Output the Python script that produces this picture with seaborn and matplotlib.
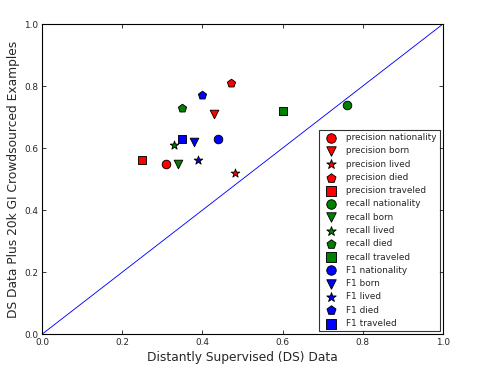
import matplotlib
matplotlib.use("Agg")
from matplotlib import pyplot as plt
import pandas as pd
import seaborn as sns

relations = ['nationality', 'born', 'lived', 'died', 'traveled']
markers = ['o', 'v', '*', 'p', 's']
metrics = ['precision', 'recall', 'F1']
colors = ['red', 'green', 'blue']

# x: distantly supervised, y: DS plus 20k GI crowdsourced
ds_precision = [0.31, 0.43, 0.48, 0.47, 0.25]
gi_precision = [0.55, 0.71, 0.52, 0.81, 0.56]
ds_recall = [0.76, 0.34, 0.33, 0.35, 0.60]
gi_recall = [0.74, 0.55, 0.61, 0.73, 0.72]
ds_f1 = [0.44, 0.38, 0.39, 0.40, 0.35]
gi_f1 = [0.63, 0.62, 0.56, 0.77, 0.63]

xs = [ds_precision, ds_recall, ds_f1]
ys = [gi_precision, gi_recall, gi_f1]

if __name__ == "__main__":
    sns.set_style("ticks", {
        'xtick.direction': 'in', 'ytick.direction': 'in',
        'xtick.top': True, 'ytick.right': True,
        'axes.edgecolor': 'black',
    })
    plt.rcParams['font.family'] = ['DejaVu Sans']

    fig = plt.figure(figsize=(6.2, 4.625), dpi=80)
    ax = fig.add_axes([0.085, 0.097, 0.808, 0.838])

    ax.plot([0, 1], [0, 1], color='blue', linewidth=0.8)

    for metric, color, xv, yv in zip(metrics, colors, xs, ys):
        for i, rel in enumerate(relations):
            m = markers[i]
            size = 65 if m == '*' else 60
            sns.scatterplot(x=[xv[i]], y=[yv[i]], marker=m, color=color,
                            s=size, edgecolor='black', linewidth=0.8,
                            label=metric + ' ' + rel, ax=ax)

    ax.set_xlim(0, 1)
    ax.set_ylim(0, 1)
    ax.set_xticks([0, 0.2, 0.4, 0.6, 0.8, 1.0])
    ax.set_yticks([0, 0.2, 0.4, 0.6, 0.8, 1.0])
    ax.tick_params(labelsize=8, length=4, width=0.8)
    for sp in ax.spines.values():
        sp.set_linewidth(1.0)

    ax.set_xlabel('Distantly Supervised (DS) Data', fontsize=11)
    ax.set_ylabel('DS Data Plus 20k GI Crowdsourced Examples', fontsize=11)

    leg = ax.legend(loc='lower right', fontsize=8, scatterpoints=1,
                    frameon=True, fancybox=False, borderaxespad=0.3,
                    labelspacing=0.48, handletextpad=0.7, markerscale=1.1)
    leg.get_frame().set_edgecolor('black')

    plt.savefig('out.png', dpi=80)
